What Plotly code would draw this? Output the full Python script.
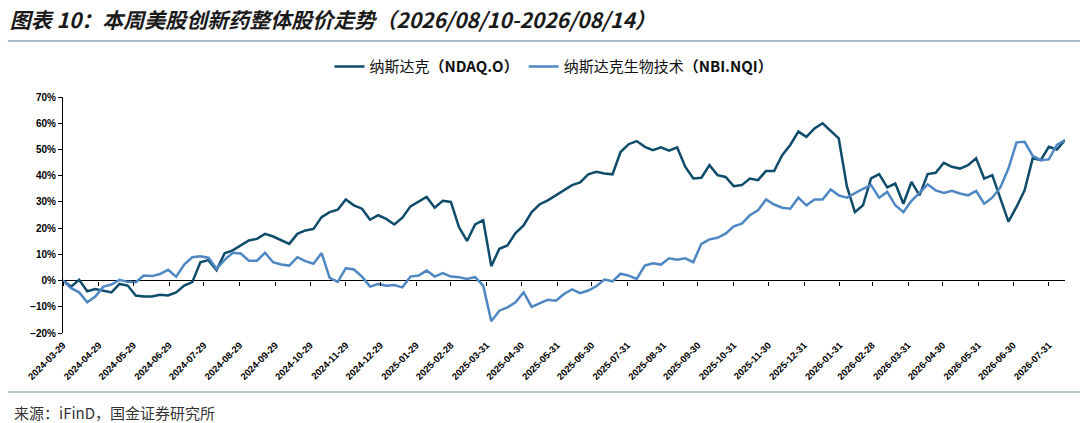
import pandas as pd
import plotly.graph_objects as go

# Weekly observation dates (Fridays), 2024-03-29 .. 2026-08-14
dates = pd.date_range("2024-03-29", "2026-08-14", freq="7D")

# 纳斯达克（NDAQ.O） cumulative change, %
ndaq = [
    0, -2.3, 0.3, -4.1, -3.2, -3.8, -4.5, -1.3, -1.9, -5.7,
    -6.1, -6.1, -5.4, -5.7, -4.5, -1.9, -0.6, 7.0, 7.8, 4.0,
    10.4, 11.5, 13.4, 15.3, 15.9, 17.8, 16.8, 15.5, 14.0, 17.8,
    19.1, 19.7, 24.2, 26.1, 27.0, 30.9, 28.7, 27.4, 23.2, 24.9,
    23.5, 21.4, 24.0, 28.3, 30.2, 31.9, 27.8, 30.4, 30.0, 20.4,
    15.1, 21.4, 23.0, 5.5, 12.1, 13.4, 18.1, 21.0, 26.1, 29.1,
    30.6, 32.5, 34.4, 36.4, 37.4, 40.5, 41.5, 40.8, 40.5, 49.0,
    52.0, 53.2, 51.0, 49.7, 50.8, 49.5, 50.8, 43.4, 38.9, 39.2,
    44.0, 40.2, 39.5, 36.0, 36.4, 38.9, 38.3, 41.8, 41.8, 47.8,
    51.7, 56.8, 54.8, 58.0, 60.0, 57.0, 54.2, 36.0, 26.1, 28.7,
    39.0, 40.6, 35.5, 37.0, 29.3, 37.6, 32.5, 40.6, 41.1, 44.9,
    43.4, 42.7, 44.0, 46.6, 38.9, 40.2, 31.3, 22.5, 28.1, 34.4,
    46.6, 45.9, 51.0, 50.0, 53.6,
]

# 纳斯达克生物技术（NBI.NQI） cumulative change, %
nbi = [
    0, -2.9, -4.5, -8.3, -6.1, -2.3, -1.5, 0.3, -0.5, -0.6,
    1.9, 1.7, 2.5, 4.1, 1.5, 6.1, 8.9, 9.3, 8.7, 4.5,
    7.9, 10.6, 10.3, 7.6, 7.6, 10.6, 7.0, 6.1, 5.7, 8.9,
    7.4, 6.4, 10.5, 1.0, -0.5, 4.7, 4.2, 1.5, -2.3, -1.3,
    -2.0, -1.7, -2.6, 1.5, 1.9, 3.8, 1.5, 2.8, 1.5, 1.3,
    0.6, 1.3, -1.9, -15.5, -11.5, -10.2, -8.3, -4.5, -10.0, -8.7,
    -7.3, -7.7, -5.1, -3.4, -4.8, -3.8, -2.2, 0.4, -0.3, 2.6,
    1.9, 0.6, 5.7, 6.6, 6.1, 8.5, 7.9, 8.5, 7.0, 14.0,
    15.7, 16.3, 17.9, 20.7, 21.7, 24.9, 26.8, 30.9, 29.0, 27.8,
    27.4, 31.6, 28.7, 30.9, 30.9, 34.7, 32.5, 31.6, 33.4, 35.0,
    36.4, 31.6, 33.8, 28.7, 26.1, 30.4, 33.4, 36.7, 34.4, 33.4,
    34.2, 33.2, 32.5, 34.2, 29.3, 31.6, 35.5, 42.7, 52.7, 52.9,
    47.6, 45.9, 46.2, 51.7, 53.6,
]

tick_labels = [
    "2024-03-29", "2024-04-29", "2024-05-29", "2024-06-29", "2024-07-29",
    "2024-08-29", "2024-09-29", "2024-10-29", "2024-11-29", "2024-12-29",
    "2025-01-29", "2025-02-28", "2025-03-31", "2025-04-30", "2025-05-31",
    "2025-06-30", "2025-07-31", "2025-08-31", "2025-09-30", "2025-10-31",
    "2025-11-30", "2025-12-31", "2026-01-31", "2026-02-28", "2026-03-31",
    "2026-04-30", "2026-05-31", "2026-06-30", "2026-07-31",
]

title_text = "图表 10：本周美股创新药整体股价走势（2026/08/10-2026/08/14）"
source_text = "来源：iFinD，国金证券研究所"
series_names = ["纳斯达克<b>（NDAQ.O）</b>", "纳斯达克生物技术<b>（NBI.NQI）</b>"]

DARK = "#0f4c6b"
LIGHT = "#4f87c3"
FONT = "Liberation Sans, Arial, Noto Sans CJK SC, sans-serif"
CJK = "Noto Sans CJK SC, Liberation Sans, sans-serif"

xr = [dates[0], dates[-1]]

fig = go.Figure()
fig.add_trace(go.Scatter(x=dates, y=ndaq, mode="lines", name=series_names[0],
                         line=dict(color=DARK, width=2.5)))
fig.add_trace(go.Scatter(x=dates, y=nbi, mode="lines", name=series_names[1],
                         xaxis="x2", line=dict(color=LIGHT, width=2.5)))

fig.update_layout(
    width=1080, height=423,
    margin=dict(l=63, r=15, t=97, b=90),
    paper_bgcolor="white", plot_bgcolor="white",
    font=dict(family=FONT, color="#000"),
    title=dict(text=title_text, xref="container", yref="container",
               x=0.009, y=0.952, xanchor="left", yanchor="middle",
               font=dict(family=CJK, size=21, color="#1a1a1a",
                         weight="bold", style="italic")),
    showlegend=True,
    legend=dict(orientation="h", x=0.49, y=1.128, xanchor="center", yanchor="middle",
                font=dict(family=CJK, size=15, color="#111"),
                itemwidth=30, tracegroupgap=0),
    xaxis=dict(type="date", range=xr, tickmode="array",
               tickvals=tick_labels, ticktext=tick_labels,
               tickangle=-45, ticks="", showline=False, showgrid=False,
               zeroline=False, ticklabelstandoff=4,
               tickfont=dict(family=FONT, size=9.5, color="#000", weight="bold")),
    xaxis2=dict(type="date", range=xr, overlaying="x", anchor="free",
                position=20 / 90, side="bottom", tickmode="array",
                tickvals=tick_labels, ticks="outside", ticklen=4,
                tickcolor="#000", tickwidth=1,
                showticklabels=False, showline=False, showgrid=False,
                zeroline=False),
    yaxis=dict(range=[-20, 70], dtick=10, ticksuffix="%",
               showline=True, linecolor="#000", linewidth=1,
               ticks="outside", ticklen=4, tickcolor="#000",
               showgrid=False, zeroline=True, zerolinecolor="#000",
               zerolinewidth=1,
               tickfont=dict(family=FONT, size=10, color="#000", weight="bold")),
)

# separator rules and source note
fig.add_shape(type="line", xref="paper", yref="paper",
              x0=-0.055, x1=1.016, y0=(333 - 41) / 236, y1=(333 - 41) / 236,
              line=dict(color="#8aa7bd", width=1.5))
fig.add_shape(type="line", xref="paper", yref="paper",
              x0=-0.055, x1=1.016, y0=(333 - 392) / 236, y1=(333 - 392) / 236,
              line=dict(color="#9fb7c4", width=1.5))
fig.add_annotation(text=source_text, xref="paper", yref="paper",
                   x=-0.051, y=(333 - 412) / 236, xanchor="left", yanchor="middle",
                   showarrow=False, font=dict(family=CJK, size=15, color="#333"))

fig.write_html(
    "out.html",
    config={"displayModeBar": False},
    post_script="document.body.style.margin='0';document.body.style.overflow='hidden';",
)
